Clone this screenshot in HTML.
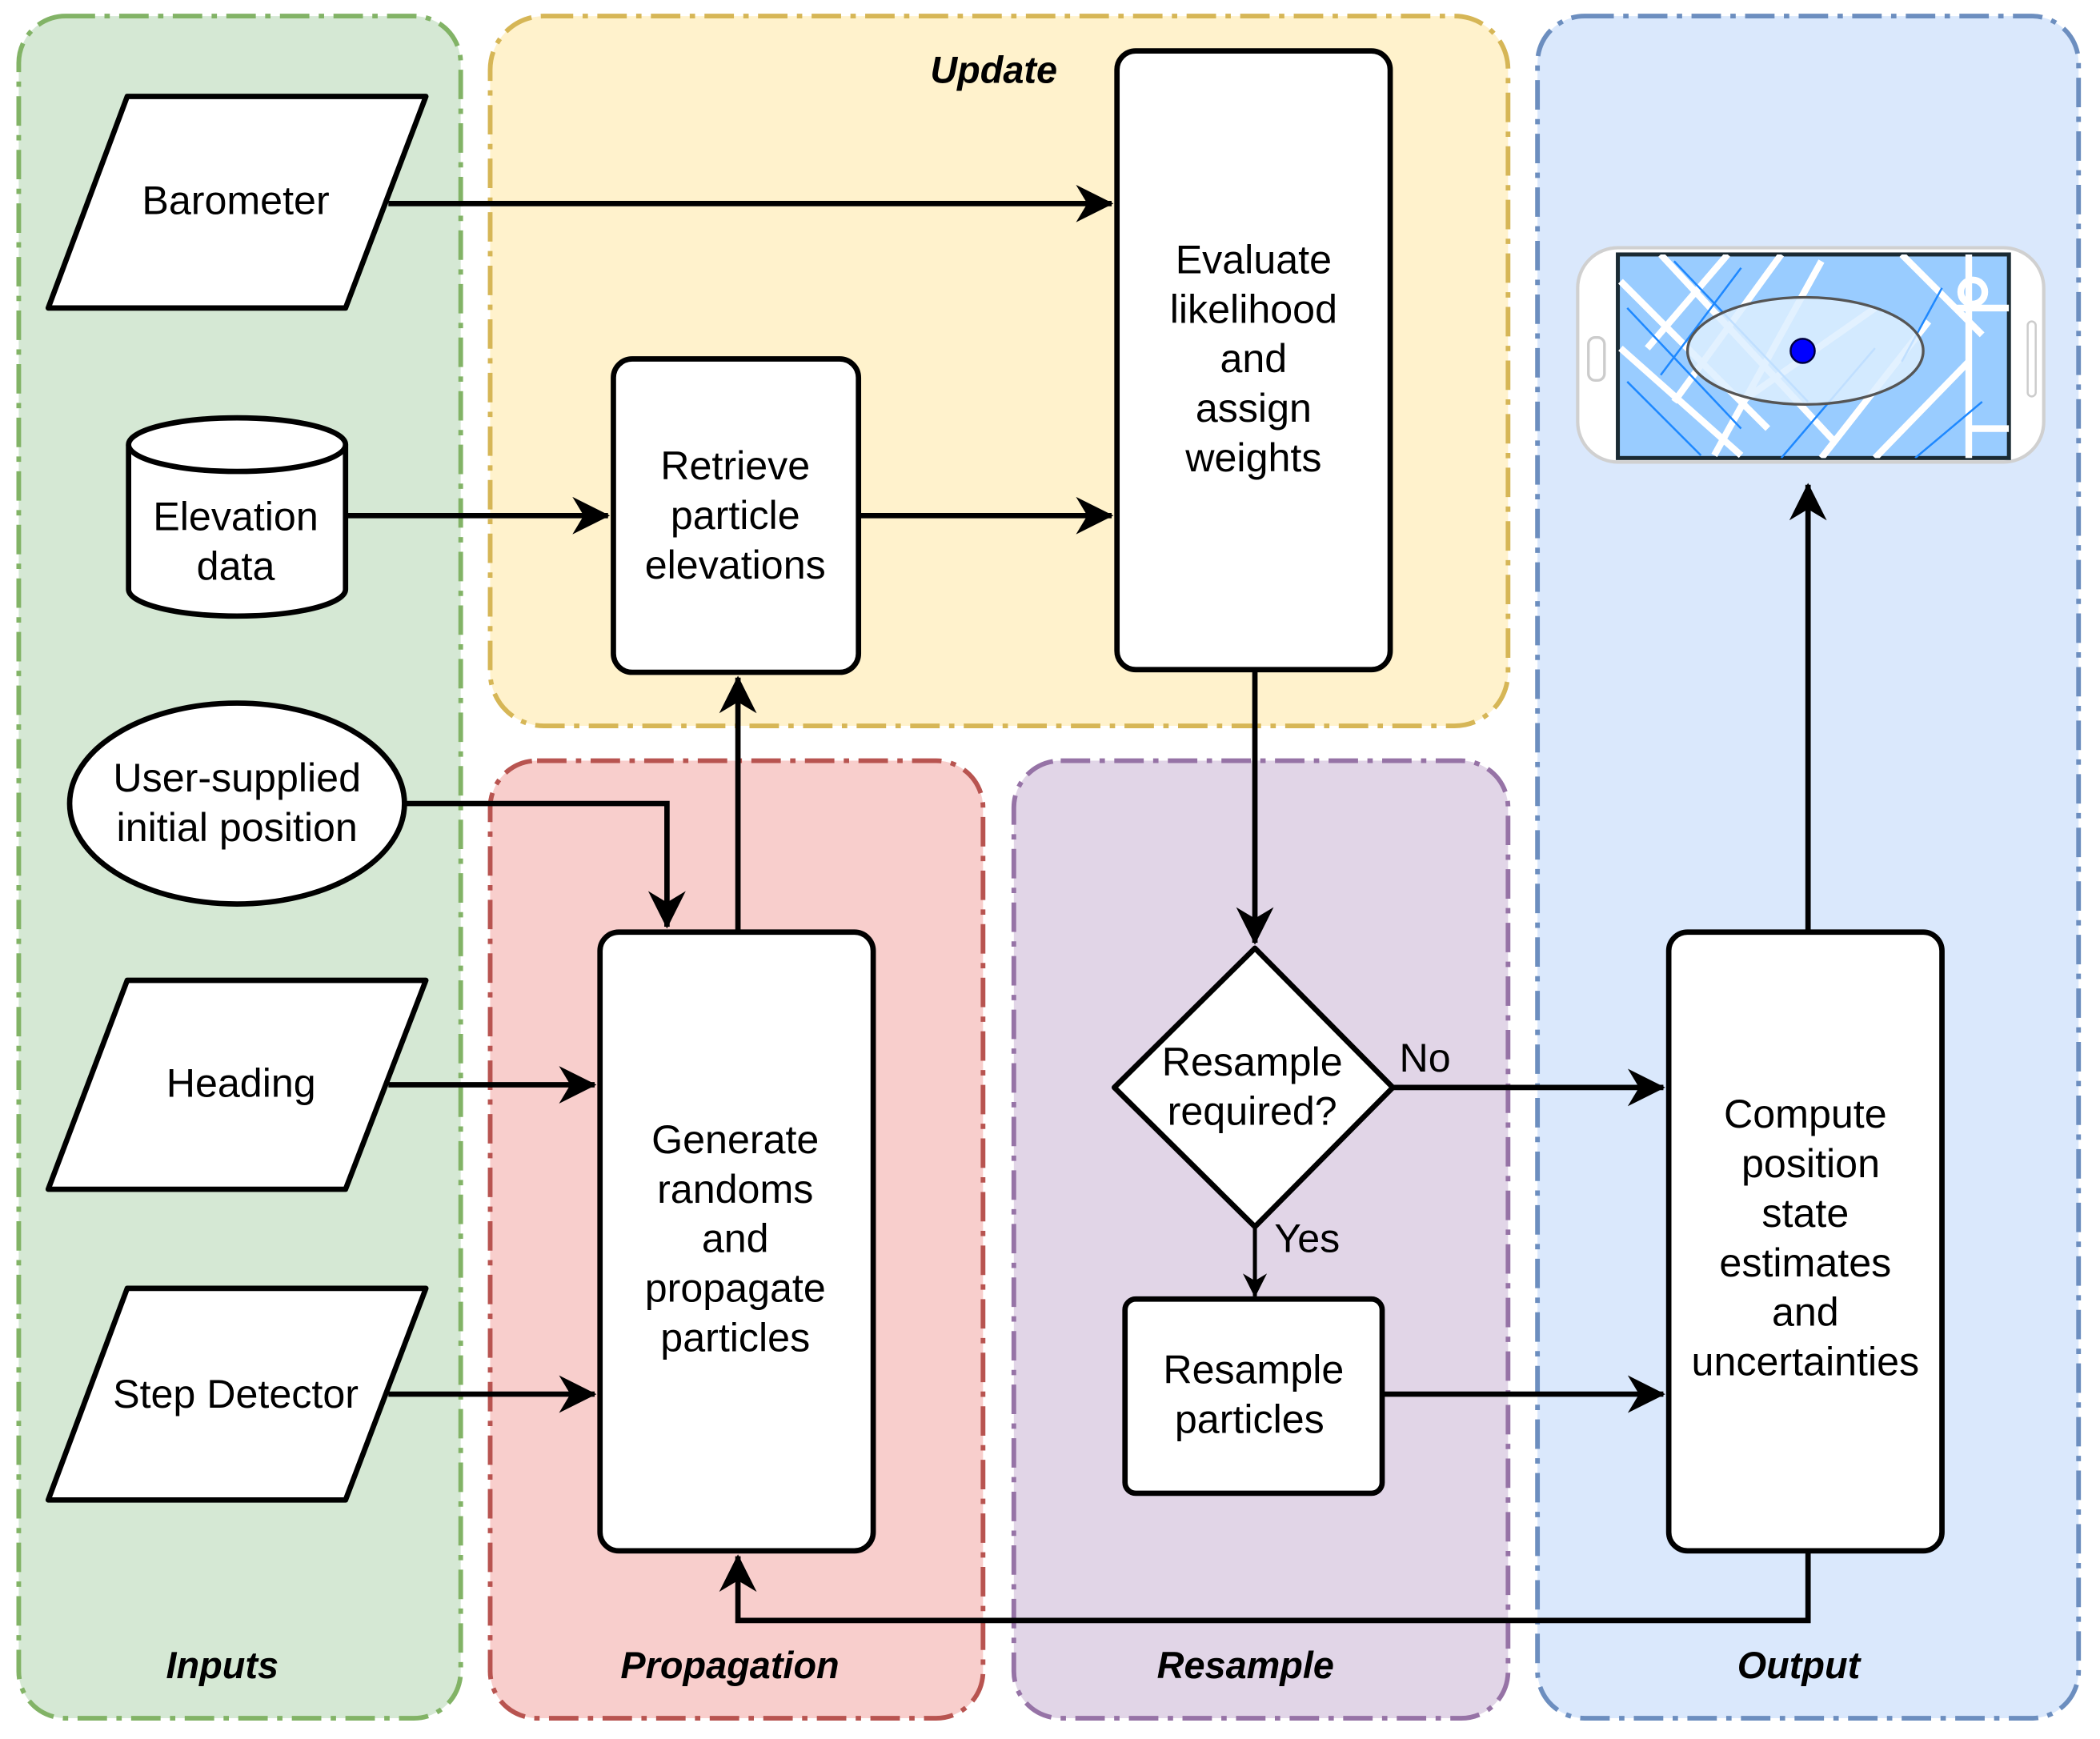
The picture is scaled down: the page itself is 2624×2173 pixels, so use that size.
<!DOCTYPE html>
<html><head><style>html,body{margin:0;padding:0;background:#fff;}svg{display:block}</style></head>
<body>
<svg width="2624" height="2173" viewBox="0 0 1568 1298.5" preserveAspectRatio="none" xmlns="http://www.w3.org/2000/svg" font-family="Liberation Sans, sans-serif">
<defs>
<marker id="a" markerWidth="10" markerHeight="10" refX="9" refY="5" orient="auto" markerUnits="userSpaceOnUse" viewBox="0 0 10 10">
</marker>
<marker id="ar" viewBox="0 0 20 20" refX="19" refY="10" markerWidth="28" markerHeight="28" markerUnits="userSpaceOnUse" orient="auto">
<path d="M0,0 L20,10 L0,20 L6,10 Z" fill="#000"/>
</marker>
<marker id="ars" viewBox="0 0 20 20" refX="19" refY="10" markerWidth="18" markerHeight="18" markerUnits="userSpaceOnUse" orient="auto">
<path d="M0,0 L20,10 L0,20 L6,10 Z" fill="#000"/>
</marker>
<clipPath id="scr"><rect x="1208" y="190" width="292" height="152"/></clipPath>
</defs>
<g stroke-width="3.5" stroke-dasharray="22,7,4,7">
<rect x="14" y="12" width="330" height="1271" rx="35" fill="#d5e8d4" stroke="#82b366"/>
<rect x="366" y="12" width="760" height="530" rx="40" fill="#fff2cc" stroke="#d6b656"/>
<rect x="366" y="568" width="368" height="715" rx="35" fill="#f8cecc" stroke="#b85450"/>
<rect x="757" y="568" width="369" height="715" rx="35" fill="#e1d5e7" stroke="#9673a6"/>
<rect x="1148" y="12" width="404" height="1271" rx="35" fill="#dae8fc" stroke="#6c8ebf"/>
</g>
<g font-size="28" font-weight="bold" font-style="italic" text-anchor="middle" fill="#000">
<text x="742" y="62">Update</text>
<text x="166" y="1253">Inputs</text>
<text x="545" y="1253">Propagation</text>
<text x="930" y="1253">Resample</text>
<text x="1343" y="1253">Output</text>
</g>
<g fill="#fff" stroke="#000" stroke-width="4" stroke-linejoin="round">
<path d="M95,72 H318 L258,230 H36 Z"/>
<path d="M95,732 H318 L258,888 H36 Z"/>
<path d="M95,962 H318 L258,1120 H36 Z"/>
<path d="M96,332 A81,20 0 0 1 258,332 V440 A81,20 0 0 1 96,440 Z"/>
<path d="M96,332 A81,20 0 0 0 258,332" fill="none"/>
<ellipse cx="177" cy="600" rx="125" ry="75"/>
<rect x="458" y="268" width="183" height="234" rx="14"/>
<rect x="834" y="38" width="204" height="462" rx="14"/>
<rect x="448" y="696" width="204" height="462" rx="14"/>
<path d="M937,708 L1040,812 L937,916 L832,812 Z"/>
<rect x="840" y="970" width="192" height="145" rx="8"/>
<rect x="1246" y="696" width="204" height="462" rx="14"/>
</g>
<g font-size="30" text-anchor="middle" fill="#000">
<text x="176" y="160">Barometer</text>
<text x="180" y="819">Heading</text>
<text x="176" y="1051">Step Detector</text>
<text x="176" y="396">Elevation</text><text x="176" y="433">data</text>
<text x="177" y="591">User-supplied</text><text x="177" y="628">initial position</text>
<text x="549" y="358">Retrieve</text><text x="549" y="395">particle</text><text x="549" y="432">elevations</text>
<text x="936" y="204">Evaluate</text><text x="936" y="241">likelihood</text><text x="936" y="278">and</text><text x="936" y="315">assign</text><text x="936" y="352">weights</text>
<text x="549" y="861">Generate</text><text x="549" y="898">randoms</text><text x="549" y="935">and</text><text x="549" y="972">propagate</text><text x="549" y="1009">particles</text>
<text x="935" y="803">Resample</text><text x="935" y="840">required?</text>
<text x="936" y="1033">Resample</text><text x="933" y="1070">particles</text>
<text x="1348" y="842">Compute</text><text x="1352" y="879">position</text><text x="1348" y="916">state</text><text x="1348" y="953">estimates</text><text x="1348" y="990">and</text><text x="1348" y="1027">uncertainties</text>
<text x="1064" y="800">No</text>
<text x="976" y="935">Yes</text>
</g>
<g fill="none" stroke="#000" stroke-width="4">
<path d="M290,152 H830" marker-end="url(#ar)"/>
<path d="M258,385 H454" marker-end="url(#ar)"/>
<path d="M641,385 H830" marker-end="url(#ar)"/>
<path d="M303,600 H498 V692" marker-end="url(#ar)"/>
<path d="M551,696 V506" marker-end="url(#ar)"/>
<path d="M290,810 H444" marker-end="url(#ar)"/>
<path d="M290,1041 H444" marker-end="url(#ar)"/>
<path d="M937,500 V704" marker-end="url(#ar)"/>
<path d="M1040,812 H1242" marker-end="url(#ar)"/>
<path d="M937,916 V968" stroke-width="3" marker-end="url(#ars)"/>
<path d="M1032,1041 H1242" marker-end="url(#ar)"/>
<path d="M1350,696 V362" marker-end="url(#ar)"/>
<path d="M1350,1158 V1210 H551 V1162" marker-end="url(#ar)"/>
</g>
<!-- phone -->
<rect x="1178" y="185" width="348" height="160" rx="30" fill="#fff" stroke="#d0d0d0" stroke-width="2.5"/>
<rect x="1186" y="252" width="12" height="32" rx="5" fill="#fff" stroke="#ccc" stroke-width="2"/>
<rect x="1514" y="240" width="6" height="56" rx="3" fill="none" stroke="#ccc" stroke-width="1.5"/>
<rect x="1208" y="190" width="292" height="152" fill="#99ccff" stroke="#1a2a33" stroke-width="3"/>
<g clip-path="url(#scr)" stroke="#fff" stroke-width="5" fill="none">
<path d="M1210,210 L1320,320 M1240,190 L1370,330 M1210,260 L1300,340 M1290,190 L1230,260 M1330,190 L1250,300 M1360,195 L1280,340 M1420,190 L1480,250 M1440,240 L1360,342 M1470,270 L1400,342 M1300,300 L1400,230 M1470,190 V342 M1460,230 H1500 M1470,320 H1500"/>
<circle cx="1473" cy="218" r="9"/>
</g>
<g clip-path="url(#scr)" stroke="#1e88ff" stroke-width="1.5" fill="none">
<path d="M1215,230 L1300,320 M1250,195 L1350,300 M1215,285 L1270,340 M1300,200 L1240,280 M1400,260 L1330,342 M1450,215 L1420,270 M1480,300 L1430,342"/>
</g>
<ellipse cx="1348" cy="262" rx="88" ry="40" fill="#ddeeff" fill-opacity="0.85" stroke="#555" stroke-width="2"/>
<circle cx="1346" cy="262" r="9" fill="#0000ff" stroke="#000040" stroke-width="1.5"/>
</svg>
</body></html>
